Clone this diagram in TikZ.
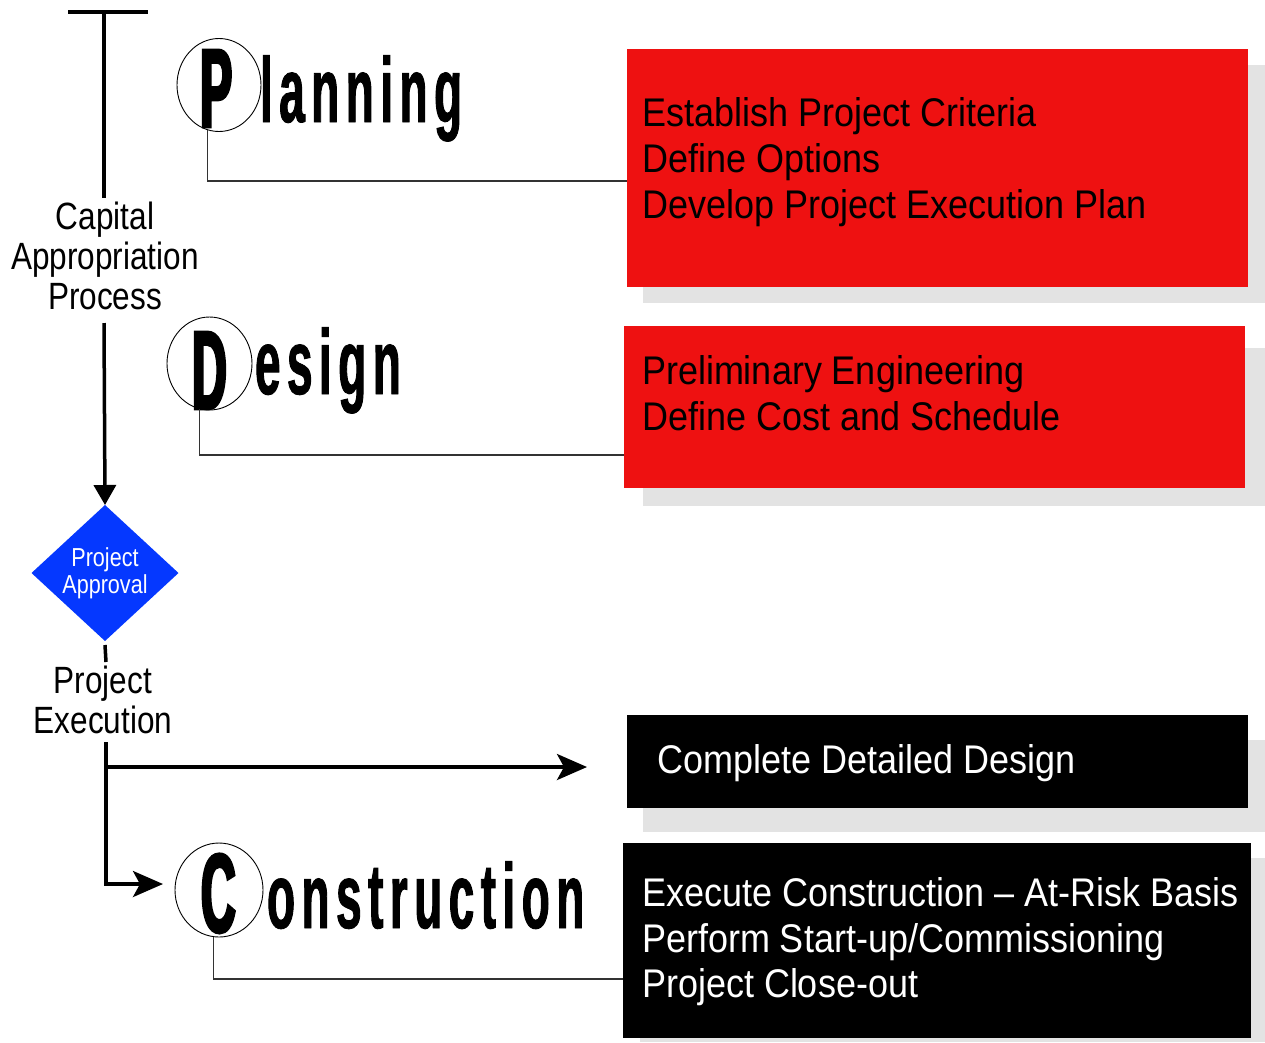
\documentclass[tikz,border=0pt]{standalone}
\usepackage{fontspec}
\usetikzlibrary{arrows.meta,shapes.geometric}
\newfontfamily\boxfont{Liberation Sans}[FakeStretch=0.9]
\newfontfamily\labfont{Liberation Sans}[FakeStretch=0.83]
\newfontfamily\capfont{Liberation Sans}[FakeStretch=0.43,FakeBold=2.5]
\newfontfamily\lowfont{Liberation Sans}[FakeStretch=0.5,FakeBold=1,LetterSpace=7]
\definecolor{pred}{HTML}{EE1111}
\definecolor{pblue}{HTML}{0538FF}
\definecolor{shadowgray}{HTML}{E3E3E3}
\definecolor{thingray}{HTML}{333333}
\begin{document}
\begin{tikzpicture}[x=1pt,y=-1pt,
  every node/.style={inner sep=0pt,outer sep=0pt},
  mainline/.style={line width=3.5pt,black},
  thinline/.style={line width=1.1pt,draw=thingray},
  harrow/.style={mainline,-{Stealth[length=30pt,width=26pt,inset=7pt]}},
  varrow/.style={mainline,-{Triangle[length=20pt,width=22pt]}},
  panel/.style={anchor=north west,draw=none},
  boxtxt/.style={anchor=base west,font=\boxfont\fontsize{40}{46}\selectfont},
  labtxt/.style={anchor=base,font=\labfont\fontsize{38}{40}\selectfont},
  bigcap/.style={anchor=base west,font=\capfont\bfseries\fontsize{112}{112}\selectfont},
  lowtitle/.style={anchor=base west,font=\lowfont\bfseries\fontsize{92}{92}\selectfont},
  ring/.style={draw,ellipse,line width=0.9pt,fill=none}
]
\useasboundingbox (0,0) rectangle (1265,1042);

% shadows
\fill[shadowgray] (643,65) rectangle (1265,303);
\fill[shadowgray] (643,348) rectangle (1265,506);
\fill[shadowgray] (643,740) rectangle (1265,832);
\fill[shadowgray] (640,858) rectangle (1265,1042);

% panels
\node[panel,fill=pred,minimum width=621pt,minimum height=238pt] (b1) at (627,49) {};
\node[panel,fill=pred,minimum width=621pt,minimum height=162pt] (b2) at (624,326) {};
\node[panel,fill=black,minimum width=621pt,minimum height=93pt] (b3) at (627,715) {};
\node[panel,fill=black,minimum width=628pt,minimum height=195pt] (b4) at (623,843) {};

% panel texts
\node[boxtxt] (b1a) at (642,126) {Establish Project Criteria};
\node[boxtxt] (b1b) at (642,172) {Define Options};
\node[boxtxt] (b1c) at (642,218) {Develop Project Execution Plan};
\node[boxtxt] (b2a) at (642,384) {Preliminary Engineering};
\node[boxtxt] (b2b) at (642,430) {Define Cost and Schedule};
\node[boxtxt,text=white] (b3a) at (657,773) {Complete Detailed Design};
\node[boxtxt,text=white] (b4a) at (642,906) {Execute Construction – At-Risk Basis};
\node[boxtxt,text=white] (b4b) at (642,952) {Perform Start-up/Commissioning};
\node[boxtxt,text=white] (b4c) at (642,997) {Project Close-out};

% titles
\node[ring,minimum width=84pt,minimum height=93pt] (pc) at (219,85) {};
\node[bigcap] (pP) at (200,127) {P};
\node[lowtitle] (pl) at (260,122) {lanning};
\node[ring,minimum width=85pt,minimum height=93pt] (dc) at (209.5,363.5) {};
\node[bigcap] (dD) at (192,409) {D};
\node[lowtitle] (dl) at (255,394) {esign};
\node[ring,minimum width=88pt,minimum height=94pt] (cc) at (219,890) {};
\node[bigcap] (cC) at (201,932) {C};
\node[lowtitle] (cl) at (267,928) {onstruction};

% thin connectors
\coordinate (j1) at (627,181);
\coordinate (j2) at (624,455);
\coordinate (j3) at (623,979);
\draw[thinline] (pc.255) |- (j1);
\draw[thinline] (dc.258) |- (j2);
\draw[thinline] (cc.263) |- (j3);

% left labels
\node[labtxt] (cap1) at (105,229) {Capital};
\node[labtxt] (cap2) at (105,269) {Appropriation};
\node[labtxt] (cap3) at (105,309) {Process};
\node[labtxt] (ex1) at (103,693) {Project};
\node[labtxt] (ex2) at (103,733) {Execution};

% diamond
\node[diamond,fill=pblue,minimum width=147pt,minimum height=136pt] (dia) at (105,573) {};
\node[align=center,text=white,font=\labfont\fontsize{26}{27}\selectfont] (diat) at (105,573) {Project\\Approval};

% main lines
\coordinate (t1) at (68,12);
\coordinate (t2) at (148,12);
\coordinate (t3) at (104,12);
\coordinate (t4) at (104,198);
\coordinate (a1) at (104,323);
\coordinate (d1) at (106,662);
\coordinate (e0) at (106,742);
\coordinate (e1) at (106,767);
\coordinate (e2) at (587,767);
\coordinate (ct) at (163,884);
\draw[mainline] (t1) -- (t2);
\draw[mainline] (t3) -- (t4);
\draw[varrow] (a1) -- (dia.north);
\draw[mainline] ([yshift=-4pt]dia.south) -- (d1);
\draw[harrow] (e0) |- (ct);
\draw[harrow] (e1) -- (e2);
\end{tikzpicture}
\end{document}
